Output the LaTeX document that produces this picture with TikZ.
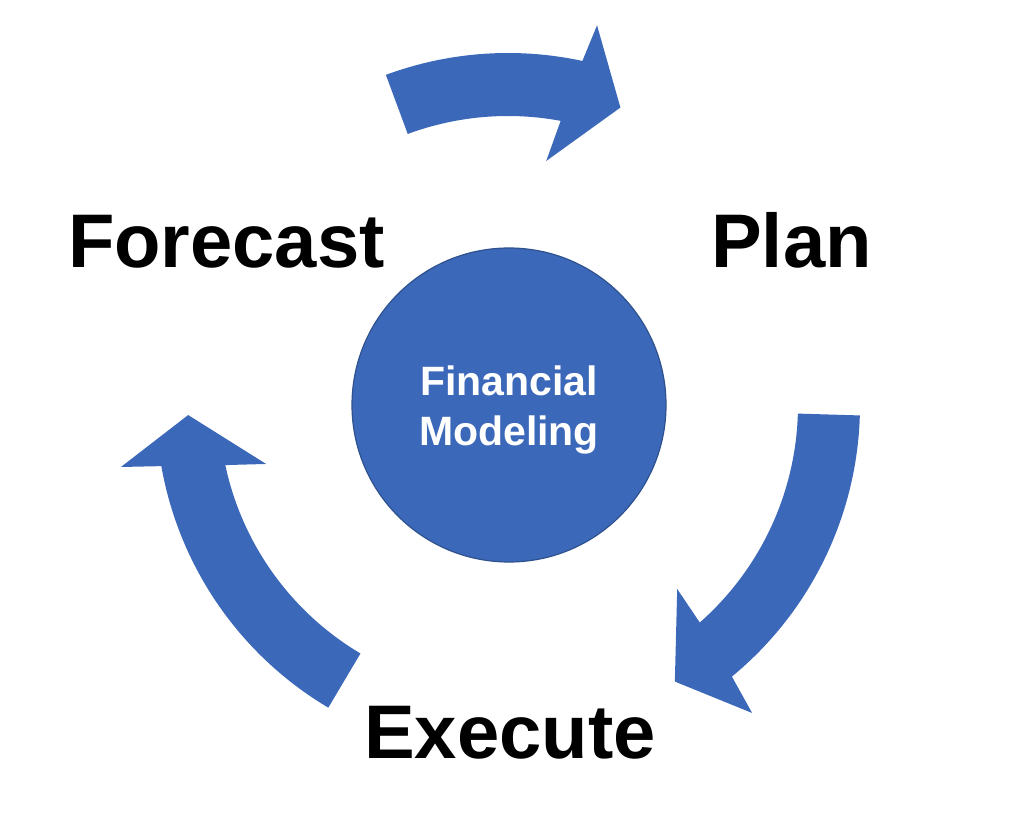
\documentclass[tikz,border=0pt]{standalone}
\usepackage{fontspec}
\setmainfont{Liberation Sans}
\definecolor{cycblue}{RGB}{60,104,185}
\definecolor{cycedge}{RGB}{47,82,143}
\begin{document}
\begin{tikzpicture}[x=1pt,y=1pt,
  arrowshape/.style={fill=cycblue},
  bigword/.style={anchor=base west,inner sep=0pt,font=\bfseries\fontsize{76}{90}\selectfont},
  hub/.style={circle,draw=cycedge,line width=1.2pt,fill=cycblue,minimum size=314pt,inner sep=0pt},
  hubtext/.style={text=white,align=center,inner sep=0pt,font=\bfseries\fontsize{41}{50}\selectfont}]
\useasboundingbox (0,0) rectangle (1024,831);
\fill[white] (0,0) rectangle (1024,831);
\coordinate (C) at (508,426);
% top arrow (Forecast -> Plan)
\fill[arrowshape] ([shift={(110.3:352)}]C) arc[start angle=110.3,end angle=77.8,radius=352]
  -- ([shift={(76.8:390)}]C) -- ([shift={(69.3:318)}]C) -- ([shift={(81.1:247)}]C)
  -- ([shift={(79.5:289)}]C) arc[start angle=79.5,end angle=110.3,radius=289] -- cycle;
% right arrow (Plan -> Execute)
\fill[arrowshape] ([shift={(-1.7:352)}]C) arc[start angle=-1.7,end angle=-50.5,radius=352]
  -- ([shift={(-51.6:393)}]C) -- ([shift={(-58.9:323)}]C) -- ([shift={(-47.4:250)}]C)
  -- ([shift={(-48.6:290)}]C) arc[start angle=-48.6,end angle=-1.7,radius=290] -- cycle;
% left arrow (Execute -> Forecast)
\fill[arrowshape] ([shift={(239.3:352)}]C) arc[start angle=239.3,end angle=190.0,radius=352]
  -- ([shift={(189.1:392)}]C) -- ([shift={(181.8:320)}]C) -- ([shift={(193.7:249)}]C)
  -- ([shift={(192.0:289)}]C) arc[start angle=192.0,end angle=239.3,radius=289] -- cycle;
\node[hub] (hubnode) at (509,426) {};
\node[hubtext] (hublabel) at ([yshift=-5pt]hubnode.center) {Financial\\Modeling};
\node[bigword] (forecast) at (67.8,563.7) {Forecast};
\node[bigword] (plan) at (711,563.7) {Plan};
\node[bigword] (execute) at (364,72.7) {Execute};
\end{tikzpicture}
\end{document}
